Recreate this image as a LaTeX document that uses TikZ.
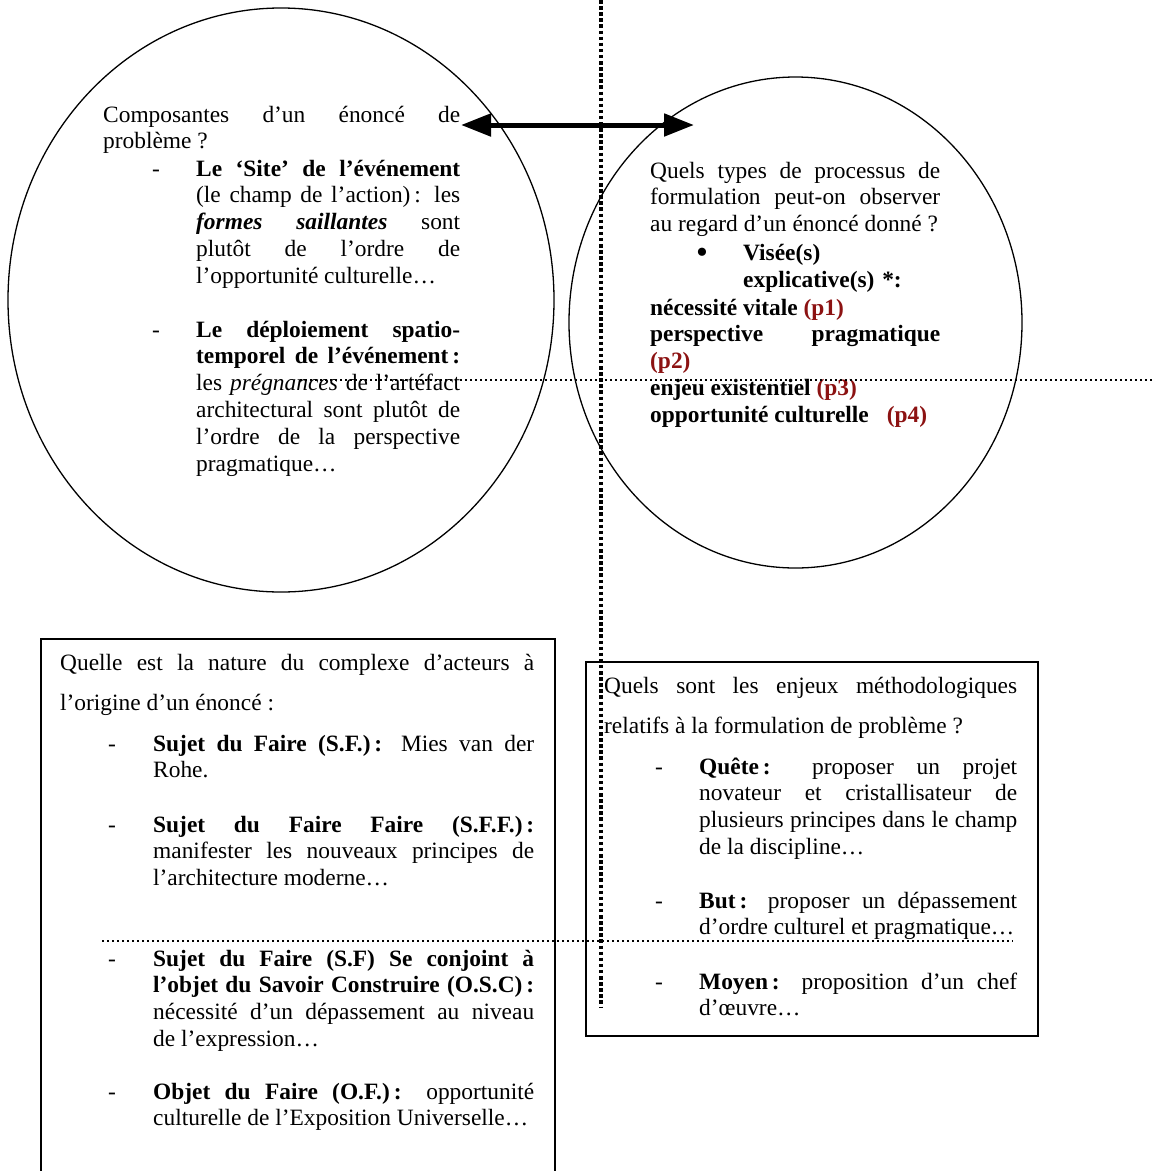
\documentclass[tikz,border=0pt]{standalone}
\usepackage{fontspec}
\setmainfont{Liberation Serif}
\usetikzlibrary{shapes.geometric,arrows.meta}

\definecolor{pdark}{RGB}{140,18,18}

\tikzset{
  body/.style={font=\fontsize{23.4pt}{26.9pt}\selectfont, inner sep=0pt, anchor=base west, align=justify},
  wide/.style={body, font=\fontsize{23.4pt}{40.6pt}\selectfont},
  bubble/.style={draw, ellipse, line width=1.3pt, inner sep=0pt},
  panel/.style={draw, line width=1.5pt, inner sep=0pt, anchor=north west},
  dashmark/.style={font=\fontsize{23.4pt}{26.9pt}\selectfont, inner sep=0pt, anchor=base west},
  bigdots/.style={line width=3.5pt, dash pattern=on 3.5pt off 2.6pt},
  smalldots/.style={line width=1.8pt, dash pattern=on 1.8pt off 3.2pt},
}

\begin{document}
\begin{tikzpicture}[x=1pt,y=-1pt]
  \useasboundingbox (0,0) rectangle (1152,1171);

  % Circles
  \node[bubble, minimum width=546pt, minimum height=584pt] (leftcirc) at (281,300) {};
  \node[bubble, minimum width=453pt, minimum height=491pt] (rightcirc) at (795.5,322.5) {};

  % Boxes
  \node[panel, minimum width=514pt, minimum height=547pt] (actorbox) at (40,638) {};
  \node[panel, minimum width=452pt, minimum height=374pt] (issuebox) at (585,661) {};

  % Left circle text
  \node[body, text width=357pt] (compq) at (103,122)
    {Composantes d'un énoncé de\linebreak problème ?};
  \node[body, text width=264pt] (site) at (196,176)
    {\textbf{Le `Site' de l'événement}\linebreak (le champ de l'action)\,: les\linebreak
     \textbf{\textit{formes saillantes}} sont\linebreak plutôt de l'ordre de\linebreak
     l'opportunité culturelle…};
  \node[body, text width=264pt] (deploi) at (196,337)
    {\textbf{Le déploiement spatio-\linebreak temporel de l'événement\,:}\linebreak
     les \textit{prégnances} de l'artéfact\linebreak architectural sont plutôt de\linebreak
     l'ordre de la perspective\linebreak pragmatique…};
  \foreach \y [count=\i] in {176,337}
    \node[dashmark] (ldash\i) at (152,\y) {-};

  % Right circle text
  \node[body, text width=290pt] (procq) at (650,178)
    {Quels types de processus de\linebreak formulation peut-on observer\linebreak
     au regard d'un énoncé donné ?};
  \node[dashmark, font=\fontsize{34pt}{34pt}\selectfont] (bul) at (696,263) {•};
  \node[body, text width=200pt, align=left, font=\fontsize{23.4pt}{27.5pt}\selectfont\bfseries] (visee) at (743,260)
    {Visée(s)\\explicative(s) *:};
  \node[body, text width=290pt, font=\fontsize{23.4pt}{26.9pt}\selectfont\bfseries] (plist) at (650,315)
    {nécessité vitale {\color{pdark}(p1)}\\ perspective pragmatique\linebreak
     {\color{pdark}(p2)}\\ enjeu existentiel {\color{pdark}(p3)}\\
     opportunité culturelle\hspace{18pt}{\color{pdark}(p4)}};

  % Actor box text
  \node[wide, text width=474pt] (actq) at (60,670)
    {Quelle est la nature du complexe d'acteurs à\linebreak l'origine d'un énoncé :};
  \node[body, text width=381pt] (sf) at (153,751)
    {\textbf{Sujet du Faire (S.F.)\,:} Mies van der\linebreak Rohe.};
  \node[body, text width=381pt] (sff) at (153,832)
    {\textbf{Sujet du Faire Faire (S.F.F.)\,:}\linebreak manifester les nouveaux principes de\linebreak
     l'architecture moderne…};
  \node[body, text width=381pt] (osc) at (153,966)
    {\textbf{Sujet du Faire (S.F) Se conjoint à\linebreak l'objet du Savoir Construire (O.S.C)\,:}\linebreak
     nécessité d'un dépassement au niveau\linebreak de l'expression…};
  \node[body, text width=381pt] (of) at (153,1099)
    {\textbf{Objet du Faire (O.F.)\,:} opportunité\linebreak culturelle de l'Exposition Universelle…};
  \foreach \y [count=\i] in {751,832,966,1099}
    \node[dashmark] (adash\i) at (108,\y) {-};

  % Issue box text
  \node[wide, text width=413pt] (methq) at (604,693)
    {Quels sont les enjeux méthodologiques\linebreak relatifs à la formulation de problème ?};
  \node[body, text width=318pt] (quete) at (699,774)
    {\textbf{Quête\,:} proposer un projet\linebreak novateur et cristallisateur de\linebreak
     plusieurs principes dans le champ\linebreak de la discipline…};
  \node[body, text width=318pt] (but) at (699,908)
    {\textbf{But\,:} proposer un dépassement\linebreak d'ordre culturel et pragmatique…};
  \node[body, text width=318pt] (moyen) at (699,989)
    {\textbf{Moyen\,:} proposition d'un chef\linebreak d'œuvre…};
  \foreach \y [count=\i] in {774,908,989}
    \node[dashmark] (idash\i) at (655,\y) {-};

  % Double arrow
  \coordinate (arrL) at (461,125);
  \coordinate (arrR) at (694,125);
  \draw[line width=5pt, {Triangle[length=30pt,width=22pt]}-{Triangle[length=30pt,width=22pt]}] (arrL) -- (arrR);

  % Dotted guides
  \coordinate (vtop) at (601,0);
  \coordinate (vbot) at (601,1007);
  \coordinate (hAl) at (300,380);
  \coordinate (hAr) at (1152,380);
  \coordinate (hBl) at (102,941);
  \coordinate (hBr) at (1013,941);
  \draw[bigdots] (vtop) -- (vbot);
  \draw[smalldots] (hAl) -- (hAr);
  \draw[smalldots] (hBl) -- (hBr);
\end{tikzpicture}
\end{document}
